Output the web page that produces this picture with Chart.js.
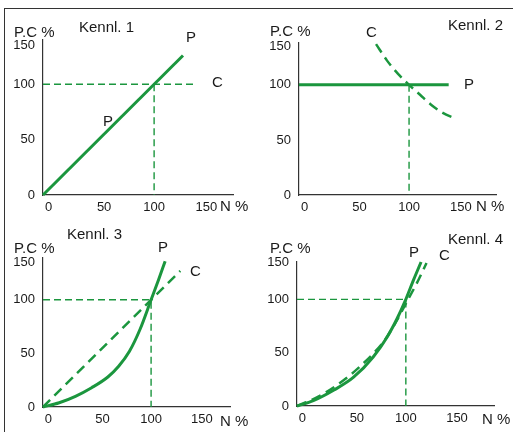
<!DOCTYPE html>
<html>
<head>
<meta charset="utf-8">
<script src="https://cdn.jsdelivr.net/npm/chart.js@4"></script>
<style>
  body { margin: 0; background: #fff; }
  #frame { position: absolute; left: 4px; top: 8px; width: 520px; height: 440px;
           border-top: 1.5px solid #333; border-left: 1.5px solid #333; }
  canvas { position: absolute; }
</style>
</head>
<body>
<div id="frame"></div>
<canvas id="k1" width="256" height="216" style="left:0;top:0"></canvas>
<canvas id="k2" width="256" height="216" style="left:256px;top:0"></canvas>
<canvas id="k3" width="256" height="216" style="left:0;top:216px"></canvas>
<canvas id="k4" width="256" height="216" style="left:256px;top:216px"></canvas>
<script>
// ---- data (N % on x, P / C % on y) ----
var titles = ['Kennl. 1', 'Kennl. 2', 'Kennl. 3', 'Kennl. 4']
// tick labels sit where the drawing puts them (roughly, not quite on the value)
var xTickVals = [5, 55, 100, 147]
var xTickLabels = ['0', '50', '100', '150']
var yTickVals = [0, 50, 100, 135]
var yTickLabels = ['0', '50', '100', '150']

// Kennl. 1
var p1N = [0, 126],   p1 = [0, 126]
var c1N = [0, 138],   c1 = [100, 100]
// Kennl. 2
var p2N = [0, 136],   p2 = [100, 100]
var c2N = [70, 80, 90, 100, 110, 120, 130, 143]
var c2  = [137, 122, 110, 100, 91, 82, 75, 69]
// Kennl. 3
var p3N = [0, 15, 30, 45, 60, 70, 80, 90, 100, 107, 113]
var p3  = [0, 4, 10, 18, 28, 38, 52, 73, 100, 119, 136]
var c3N = [0, 127],   c3 = [0, 127]
// Kennl. 4
var p4N = [0, 15, 34, 52, 70, 83, 92, 100, 107, 114]
var p4  = [0, 5, 15, 27, 46, 65, 82, 100, 118, 135]
var c4N = [0, 20, 40, 60, 80, 90, 100, 110, 119]
var c4  = [0, 9, 22, 39, 61, 77, 96, 115, 134]
// guide lines to the 100 % point
var vGuideN = [100, 100], vGuide = [100, 0]
var hvGuideN = [0, 100, 100], hvGuide = [100, 100, 0]

var GREEN = '#1b963e'
var LABEL_FONT = '15px "Liberation Sans", Arial, sans-serif'
Chart.defaults.font.family = '"Liberation Sans", Arial, sans-serif'
Chart.defaults.font.size = 13
Chart.defaults.color = '#1a1a1a'

function pts(xs, ys) {
  return xs.map(function (x, i) { return { x: x, y: ys[i] } })
}
function solid(xs, ys) {
  return { data: pts(xs, ys), showLine: true, borderColor: GREEN, borderWidth: 3,
           pointRadius: 0, cubicInterpolationMode: 'monotone', clip: false }
}
function dashed(xs, ys) {
  return { data: pts(xs, ys), showLine: true, borderColor: GREEN, borderWidth: 2.5,
           borderDash: [10, 6], pointRadius: 0, cubicInterpolationMode: 'monotone', clip: false }
}
function thin(xs, ys) {
  return { data: pts(xs, ys), showLine: true, borderColor: GREEN, borderWidth: 1.4,
           borderDash: [7, 4], pointRadius: 0, clip: false }
}

var textPlugin = {
  id: 'texts',
  afterDraw: function (chart, args, opts) {
    var ctx = chart.ctx
    ctx.save()
    ctx.fillStyle = '#1a1a1a'
    ctx.font = LABEL_FONT
    ctx.textBaseline = 'middle'
    ctx.textAlign = 'left'
    opts.items.forEach(function (it) { ctx.fillText(it[0], it[1], it[2]) })
    ctx.restore()
  }
}

// box: chart area inside the 256x216 canvas
function makePanel(id, datasets, box, xMax, yMax, texts) {
  new Chart(document.getElementById(id), {
    type: 'scatter',
    data: { datasets: datasets },
    options: {
      responsive: false,
      animation: false,
      layout: { padding: { left: 0, top: box.top, right: 256 - box.right, bottom: 0 } },
      plugins: { legend: { display: false }, tooltip: { enabled: false }, texts: { items: texts } },
      scales: {
        x: {
          type: 'linear', min: 0, max: xMax,
          grid: { display: false, drawTicks: false },
          border: { color: '#333', width: 1.2 },
          ticks: {
            padding: 5, maxRotation: 0,
            callback: function (v, i) { return xTickLabels[i] }
          },
          afterBuildTicks: function (s) { s.ticks = xTickVals.map(function (v) { return { value: v } }) },
          afterFit: function (s) { s.height = 216 - box.bottom }
        },
        y: {
          min: 0, max: yMax,
          grid: { display: false, drawTicks: false },
          border: { color: '#333', width: 1.2 },
          ticks: {
            padding: 8,
            callback: function (v, i) { return yTickLabels[i] }
          },
          afterBuildTicks: function (s) { s.ticks = yTickVals.map(function (v) { return { value: v } }) },
          afterFit: function (s) { s.width = box.left }
        }
      }
    },
    plugins: [textPlugin]
  })
}

makePanel('k1', [solid(p1N, p1), thin(c1N, c1), thin(vGuideN, vGuide)],
  { left: 43, right: 233, top: 40, bottom: 195 }, 171, 140,
  [['P.C %', 14, 33], [titles[0], 79, 28], ['P', 186, 38], ['C', 212, 83], ['P', 103, 122], ['N %', 220, 207]])

makePanel('k2', [solid(p2N, p2), dashed(c2N, c2), thin(vGuideN, vGuide)],
  { left: 43, right: 240, top: 43, bottom: 195 }, 179, 138,
  [['P.C %', 14, 32], [titles[1], 192, 26], ['C', 110, 33], ['P', 208, 85], ['N %', 220, 207]])

makePanel('k3', [solid(p3N, p3), dashed(c3N, c3), thin(hvGuideN, hvGuide)],
  { left: 43, right: 230, top: 42, bottom: 191 }, 173, 139,
  [[titles[2], 67, 19], ['P.C %', 14, 33], ['P', 158, 32], ['C', 190, 56], ['N %', 220, 206]])

makePanel('k4', [solid(p4N, p4), dashed(c4N, c4), thin(hvGuideN, hvGuide)],
  { left: 41, right: 238, top: 46, bottom: 190 }, 181, 135,
  [[titles[3], 192, 24], ['P.C %', 14, 33], ['P', 153, 37], ['C', 183, 40], ['N %', 226, 204]])
</script>
</body>
</html>
